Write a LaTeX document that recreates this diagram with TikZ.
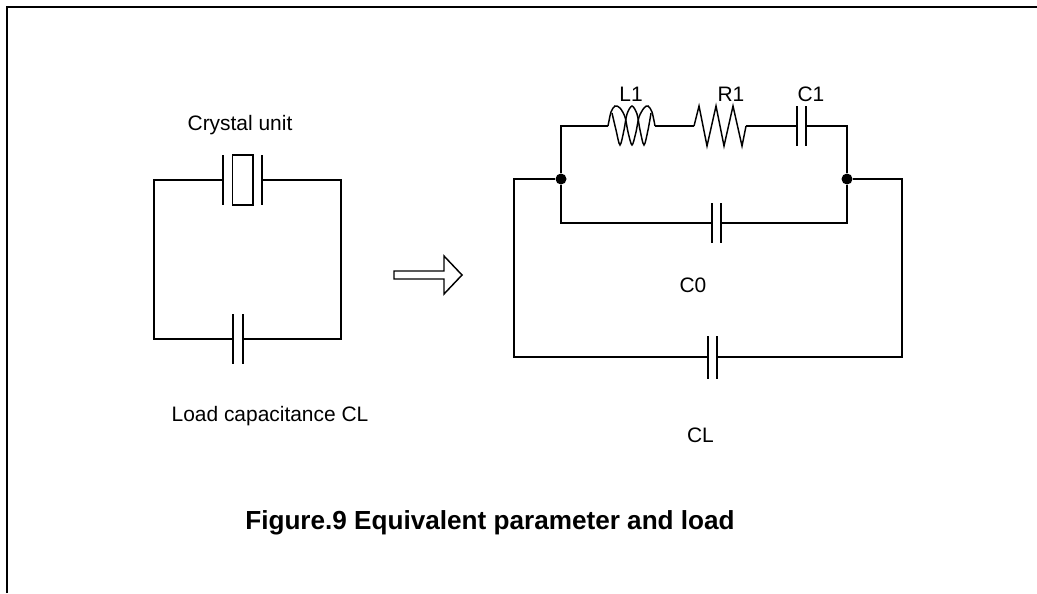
\documentclass[tikz,border=0pt]{standalone}
\usepackage{fontspec}
\setmainfont{Liberation Sans}
\usetikzlibrary{positioning}
\tikzset{
  wire/.style={line width=1.1pt},
  joint/.style={circle,fill=black,inner sep=0pt,minimum size=8.25pt},
  lbl/.style={inner sep=0pt,font=\fontsize{15.7pt}{18pt}\selectfont},
}
\begin{document}
\begin{tikzpicture}[x=0.75pt,y=-0.75pt]
  \useasboundingbox (0,0) rectangle (1037,593);
  % frame
  \draw[line width=1.5pt] (7,593) -- (7,7) -- (1037,7);

  % left circuit
  \coordinate (xa) at (223,180);
  \coordinate (xb) at (262,180);
  \coordinate (cla) at (233,339);
  \coordinate (clb) at (243,339);
  \draw[wire] (xa) -- (154,180) -- (154,339) -- (cla);
  \draw[wire] (xb) -- (341,180) -- (341,339) -- (clb);
  \foreach \p in {xa,xb,cla,clb}{
    \draw[wire] (\p) ++(0,-25) -- ++(0,50);
  }
  \draw[wire] (232.5,155) rectangle (253,205);
  \node[lbl] (cu) at (240,125) {Crystal unit};
  \node[lbl] (load) at (270,416) {Load capacitance CL};

  % arrow
  \draw[wire] (394,271) -- (444,271) -- (444,256) -- (462,275) -- (444,294) -- (444,279) -- (394,279) -- cycle;

  % right circuit
  \node[joint] (jl) at (561,179) {};
  \node[joint] (jr) at (847,179) {};
  \coordinate (la) at (608,126);
  \coordinate (lb) at (655,126);
  \coordinate (ra) at (694,126);
  \coordinate (rb) at (746,126);
  \coordinate (ca) at (797,126);
  \coordinate (cb) at (806,126);
  \coordinate (oa) at (712,223);
  \coordinate (ob) at (721,223);
  \coordinate (pa) at (708,357);
  \coordinate (pb) at (717,357);
  \draw[wire] (jl) -- (561,126) -- (la);
  \draw[wire] (lb) -- (ra);
  \draw[wire] (rb) -- (ca);
  \draw[wire] (cb) -- (847,126) -- (jr);
  \draw[wire] (jl) -- (561,223) -- (oa);
  \draw[wire] (jr) -- (847,223) -- (ob);
  \draw[wire] (jl) -- (514,179) -- (514,357) -- (pa);
  \draw[wire] (jr) -- (902,179) -- (902,357) -- (pb);
  \foreach \p in {ca,cb,oa,ob}{
    \draw[wire] (\p) ++(0,-20) -- ++(0,40);
  }
  \foreach \p in {pa,pb}{
    \draw[wire] (\p) ++(0,-21) -- ++(0,43);
  }
  % coil
  \draw[wire] plot[smooth] coordinates {(la) (611,112) (615,106) (620,108) (625,117) (628,132) (632,145) (636,132) (639,117) (644,108) (648,106) (652,112) (lb)};
  \draw[wire] plot[smooth] coordinates {(612,113) (616,130) (620,145) (624,130) (627,114) (632,106) (637,114) (640,130) (644,145) (648,130) (651,113)};
  % resistor
  \draw[wire] (ra) -- (699,106) -- (707,146) -- (716,106) -- (724,146) -- (733,106) -- (742,146) -- (rb);

  \node[lbl] (l1) at (631,94) {L1};
  \node[lbl] (r1) at (731,94) {R1};
  \node[lbl] (c1) at (811,94) {C1};
  \node[lbl] (c0) at (693,285) {C0};
  \node[lbl] (cl) at (700.5,435) {CL};
  \node[inner sep=0pt,font=\fontsize{19.6pt}{22pt}\selectfont\bfseries] (cap) at (490,523) {Figure.9 Equivalent parameter and load};
\end{tikzpicture}
\end{document}
